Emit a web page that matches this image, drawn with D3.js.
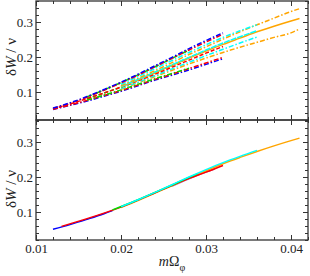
<!DOCTYPE html>
<html>
<head>
<meta charset="UTF-8">
<script src="https://d3js.org/d3.v7.min.js"></script>
<style>
  body { margin: 0; padding: 0; background: #fff; }
  svg { display: block; }
  .tick text { font-family: "Liberation Serif", "DejaVu Serif", serif; font-size: 13px; fill: #222; }
  .domain { display: none; }
  .tick line { stroke: #333; stroke-width: 1; }
</style>
</head>
<body>
<div id="chart"></div>
<script>
// Pontos de x comuns
const xGrid = [0.012, 0.014, 0.016, 0.018, 0.020, 0.022, 0.024, 0.026, 0.028, 0.030, 0.032, 0.034, 0.036, 0.038, 0.040, 0.041];

// Painel de cima: limites (superior / central / inferior) de cada série
const blueUpper  = [0.054, 0.069, 0.087, 0.107, 0.128, 0.151, 0.175, 0.199, 0.224, 0.247, 0.269];
const blueLower  = [0.050, 0.062, 0.074, 0.088, 0.102, 0.118, 0.134, 0.148, 0.163, 0.179, 0.195];
const redUpper   = [0.053, 0.068, 0.085, 0.105, 0.126, 0.148, 0.172, 0.196, 0.220, 0.243, 0.265];
const redMid     = [0.052, 0.066, 0.081, 0.097, 0.114, 0.132, 0.151, 0.171, 0.191, 0.211, 0.230];
const redLower   = [0.051, 0.063, 0.076, 0.090, 0.104, 0.120, 0.136, 0.151, 0.167, 0.183, 0.199];
const greenX     = [0.016, 0.018, 0.020, 0.022, 0.024, 0.026, 0.028];
const greenUpper = [0.086, 0.106, 0.127, 0.149, 0.172, 0.196, 0.220];
const greenMid   = [0.081, 0.097, 0.114, 0.134, 0.155, 0.176, 0.198];
const greenLower = [0.077, 0.091, 0.106, 0.122, 0.138, 0.153, 0.168];
const cyanX      = [0.020, 0.022, 0.024, 0.026, 0.028, 0.030, 0.032, 0.034, 0.036];
const cyanUpper  = [0.122, 0.144, 0.167, 0.190, 0.213, 0.235, 0.256, 0.275, 0.292];
const cyanMid    = [0.116, 0.136, 0.157, 0.178, 0.199, 0.220, 0.240, 0.258, 0.275];
const cyanLower  = [0.110, 0.128, 0.147, 0.166, 0.185, 0.204, 0.222, 0.240, 0.257];
const orangeX     = [0.020, 0.022, 0.024, 0.026, 0.028, 0.030, 0.032, 0.034, 0.036, 0.038, 0.040, 0.041];
const orangeUpper = [0.118, 0.139, 0.161, 0.184, 0.207, 0.229, 0.251, 0.272, 0.292, 0.311, 0.330, 0.338];
const orangeMid   = [0.114, 0.134, 0.155, 0.176, 0.197, 0.217, 0.236, 0.254, 0.272, 0.288, 0.303, 0.310];
const orangeLower = [0.108, 0.126, 0.144, 0.162, 0.180, 0.197, 0.213, 0.228, 0.242, 0.256, 0.269, 0.280];

// Painel de baixo: curvas colapsadas
const blueX    = [0.012, 0.014, 0.016, 0.018, 0.019];
const blueCol  = [0.051, 0.064, 0.079, 0.095, 0.104];
const redX     = [0.013, 0.016, 0.020, 0.024, 0.028, 0.030, 0.032];
const redCol   = [0.059, 0.081, 0.114, 0.155, 0.196, 0.214, 0.233];
const purpleX   = [0.026, 0.028, 0.030, 0.031];
const purpleCol = [0.174, 0.195, 0.214, 0.223];
const greenColX = [0.019, 0.022, 0.024, 0.026, 0.028, 0.029];
const greenCol  = [0.106, 0.135, 0.156, 0.177, 0.199, 0.209];
const orangeCol = [0.113, 0.133, 0.154, 0.175, 0.197, 0.218, 0.238, 0.256, 0.273, 0.289, 0.304, 0.311];
const cyanCol   = [0.115, 0.135, 0.156, 0.178, 0.200, 0.221, 0.241, 0.259, 0.276];

// Ticks
const xMajor = [0.01, 0.02, 0.03, 0.04];
const xMinor = d3.range(0.01, 0.0421, 0.002);
const yMajor = [0.1, 0.2, 0.3];
const yMinor = d3.range(0.02, 0.361, 0.02);

const width = 310, height = 276;
const left = 36, right = 308;

const svg = d3.select("#chart").append("svg")
  .attr("width", width)
  .attr("height", height);

const x = d3.scaleLinear().domain([0.01, 0.042]).range([left, right]);
const yTop = d3.scaleLinear().domain([0.02, 0.36]).range([120, 1]);
const yBot = d3.scaleLinear().domain([0.02, 0.36]).range([240, 121]);

const dashDot = "5,2,1.5,2";

function pts(xs, ys) {
  return ys.map((v, i) => [xs[i], v]);
}

function drawLine(y, data, color, dash, w) {
  const line = d3.line().x(d => x(d[0])).y(d => y(d[1])).curve(d3.curveMonotoneX);
  svg.append("path")
    .attr("d", line(data))
    .attr("fill", "none")
    .attr("stroke", color)
    .attr("stroke-width", w || 1.5)
    .attr("stroke-dasharray", dash || null);
}

// Painel de cima
drawLine(yTop, pts(xGrid, blueLower), "#0000ff", dashDot);
drawLine(yTop, pts(xGrid, redLower), "#ff0000", dashDot);
drawLine(yTop, pts(greenX, greenLower), "#00dd00", dashDot);
drawLine(yTop, pts(orangeX, orangeLower), "#ffa500", dashDot);
drawLine(yTop, pts(cyanX, cyanLower), "#00ffff", dashDot);
drawLine(yTop, pts(greenX, greenMid), "#00dd00", "4,2");
drawLine(yTop, pts(xGrid, redMid), "#ff0000", "4,2");
drawLine(yTop, pts(orangeX, orangeMid), "#ffa500", null);
drawLine(yTop, pts(cyanX, cyanMid), "#00ffff", "6,1");
drawLine(yTop, pts(orangeX, orangeUpper), "#ffa500", dashDot);
drawLine(yTop, pts(cyanX, cyanUpper), "#00ffff", dashDot);
drawLine(yTop, pts(greenX, greenUpper), "#00dd00", dashDot);
drawLine(yTop, pts(xGrid, redUpper), "#ff0000", dashDot);
drawLine(yTop, pts(xGrid, blueUpper), "#0000ff", dashDot);

// Painel de baixo
drawLine(yBot, pts(blueX, blueCol), "#0000ff");
drawLine(yBot, pts(purpleX, purpleCol), "#9966cc");
drawLine(yBot, pts(orangeX, orangeCol), "#ffa500");
drawLine(yBot, pts(redX, redCol), "#ff0000");
drawLine(yBot, pts(greenColX, greenCol), "#00dd00");
drawLine(yBot, pts(cyanX, cyanCol), "#00ffff");

// Eixos
function axes(y, y0, y1, showX) {
  svg.append("g").attr("transform", `translate(${left},0)`)
    .call(d3.axisLeft(y).tickValues(yMajor).tickSize(-5).tickPadding(3).tickFormat(d3.format(".1f")));
  svg.append("g").attr("transform", `translate(${left},0)`)
    .call(d3.axisLeft(y).tickValues(yMinor).tickSize(-3).tickFormat(""));
  svg.append("g").attr("transform", `translate(${right},0)`)
    .call(d3.axisRight(y).tickValues(yMajor).tickSize(-5).tickFormat(""));
  svg.append("g").attr("transform", `translate(${right},0)`)
    .call(d3.axisRight(y).tickValues(yMinor).tickSize(-3).tickFormat(""));
  svg.append("g").attr("transform", `translate(0,${y0})`)
    .call(d3.axisTop(x).tickValues(xMajor).tickSize(-5).tickFormat(""));
  svg.append("g").attr("transform", `translate(0,${y0})`)
    .call(d3.axisTop(x).tickValues(xMinor).tickSize(-3).tickFormat(""));
  svg.append("g").attr("transform", `translate(0,${y1})`)
    .call(d3.axisBottom(x).tickValues(xMajor).tickSize(-5).tickPadding(4)
      .tickFormat(showX ? d3.format(".2f") : ""));
  svg.append("g").attr("transform", `translate(0,${y1})`)
    .call(d3.axisBottom(x).tickValues(xMinor).tickSize(-3).tickFormat(""));
  svg.append("rect")
    .attr("x", left).attr("y", y0)
    .attr("width", right - left).attr("height", y1 - y0)
    .attr("fill", "none").attr("stroke", "#333").attr("stroke-width", 1.3);
}
axes(yTop, 1, 120, false);
axes(yBot, 120, 240, true);

// Rótulos
const serif = "'Liberation Serif', 'DejaVu Serif', serif";
function yLabel(cy) {
  const t = svg.append("text")
    .attr("transform", `translate(16,${cy}) rotate(-90)`)
    .attr("text-anchor", "middle")
    .attr("font-family", serif)
    .attr("font-size", 15)
    .attr("fill", "#222");
  t.append("tspan").text("δ");
  t.append("tspan").attr("font-style", "italic").text("W");
  t.append("tspan").text(" / ν");
}
yLabel(57);
yLabel(189);

const xl = svg.append("text")
  .attr("x", 172).attr("y", 266)
  .attr("text-anchor", "middle")
  .attr("font-family", serif)
  .attr("font-size", 14)
  .attr("fill", "#222");
xl.append("tspan").attr("font-style", "italic").text("m");
xl.append("tspan").text("Ω");
xl.append("tspan").attr("font-size", 10).attr("dy", 5).text("φ");
</script>
</body>
</html>
